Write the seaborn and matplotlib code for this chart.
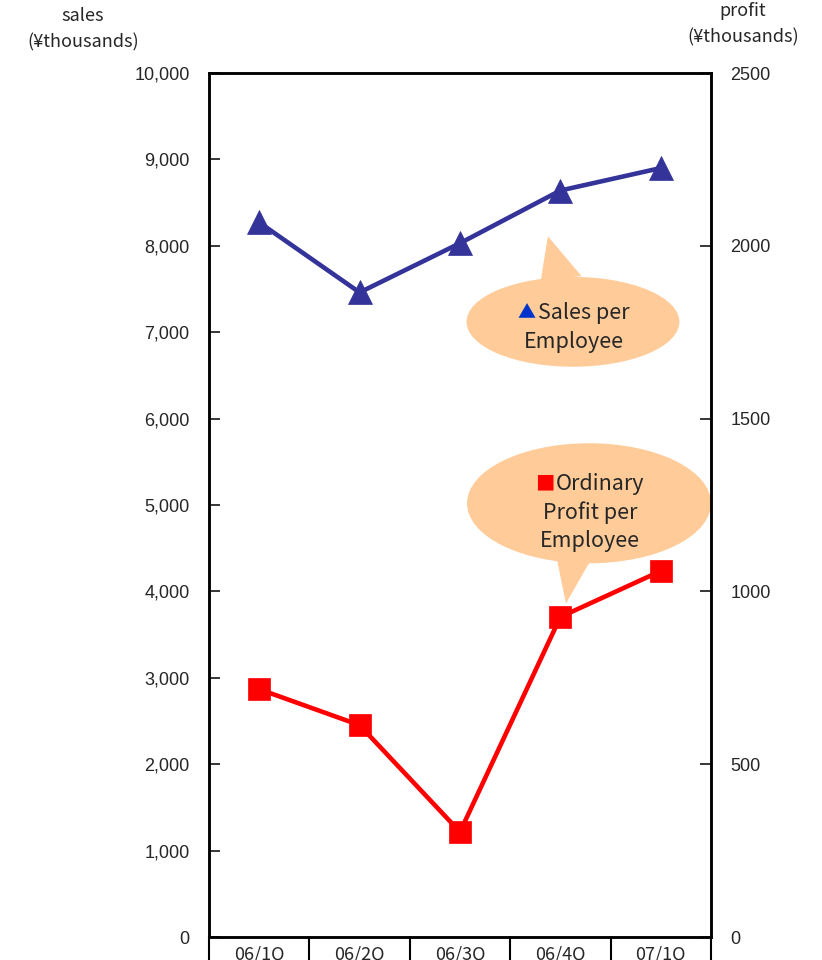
import matplotlib
matplotlib.use('Agg')
import matplotlib.pyplot as plt
import numpy as np
import seaborn as sns
from matplotlib.patches import Ellipse, Polygon

# data
quarters = ['06/1Q', '06/2Q', '06/3Q', '06/4Q', '07/1Q']
sales_per_employee = [8270, 7460, 8030, 8640, 8900]      # left axis, ¥ thousands
profit_per_employee = [717, 613, 304, 926, 1059]         # right axis, ¥ thousands
left_ticks = list(range(0, 10001, 1000))
right_ticks = list(range(0, 2501, 500))

sns.set_style('white')
plt.rcParams['font.family'] = ['Liberation Sans', 'DejaVu Sans']
JP = ['Noto Sans CJK JP', 'DejaVu Sans']

W, H = 822, 960


def px(x, y):
    # pixel position -> figure fraction
    return x / W, 1 - y / H


fig = plt.figure(figsize=(W / 100, H / 100), dpi=100)
ax = fig.add_axes([209 / W, 23 / H, 502 / W, 864 / H])
ax2 = ax.twinx()

pos = np.arange(len(quarters))
sns.lineplot(x=pos, y=sales_per_employee, ax=ax, color='#333399', marker='^',
             markersize=17, markeredgecolor='#333399', markeredgewidth=0.5,
             linewidth=3.3, zorder=4)
sns.lineplot(x=pos, y=profit_per_employee, ax=ax2, color='#ff0000', marker='s',
             markersize=15.5, markeredgecolor='#ff0000', markeredgewidth=0.5,
             linewidth=3.3, zorder=4)

ax.set_xlim(-0.5, len(quarters) - 0.5)
ax.set_ylim(0, 10000)
ax2.set_ylim(0, 2500)
ax.set_yticks(left_ticks)
ax.set_yticklabels([f'{v:,}' for v in left_ticks])
ax2.set_yticks(right_ticks)
ax2.set_yticklabels([str(v) for v in right_ticks])
ax.set_xticks(pos)
ax.set_xticklabels(quarters, fontsize=13, family=JP)
ax.tick_params(axis='x', length=0, pad=6)
ax.tick_params(axis='y', direction='in', length=8, width=1.3, labelsize=13, pad=14)
ax2.tick_params(axis='y', direction='in', length=8, width=1.3, labelsize=13, pad=14)
for a in (ax, ax2):
    a.set_xlabel('')
    a.set_ylabel('')
    for s in a.spines.values():
        s.set_linewidth(1.8)
        s.set_color('black')

# table-like separators under the axis
for b in np.arange(len(quarters) + 1) - 0.5:
    ax.plot([b, b], [0, -0.05], transform=ax.get_xaxis_transform(),
            clip_on=False, color='black', lw=1.5)

# callouts
peach = '#ffcc99'
ax.add_patch(Ellipse((0.725, 0.712), 0.424, 0.104, transform=ax.transAxes,
                     facecolor=peach, edgecolor='none', zorder=1))
ax.add_patch(Polygon([(0.661, 0.760), (0.675, 0.811), (0.742, 0.765)],
                     transform=ax.transAxes, facecolor=peach, edgecolor='none', zorder=1))
ax.add_patch(Ellipse((0.757, 0.502), 0.486, 0.139, transform=ax.transAxes,
                     facecolor=peach, edgecolor='none', zorder=1))
ax.add_patch(Polygon([(0.688, 0.452), (0.711, 0.386), (0.776, 0.452)],
                     transform=ax.transAxes, facecolor=peach, edgecolor='none', zorder=1))

fs = 15.5
fig.text(*px(526, 313), '▲', color='#0033cc', fontsize=13, family=JP, ha='center', va='center')
fig.text(*px(538, 313), 'Sales per', fontsize=fs, family=JP, ha='left', va='center')
fig.text(*px(574, 342), 'Employee', fontsize=fs, family=JP, ha='center', va='center')

fig.text(*px(545, 484), '■', color='#ff0000', fontsize=14, family=JP, ha='center', va='center')
fig.text(*px(556, 484), 'Ordinary', fontsize=fs, family=JP, ha='left', va='center')
fig.text(*px(590, 513), 'Profit per', fontsize=fs, family=JP, ha='center', va='center')
fig.text(*px(590, 541), 'Employee', fontsize=fs, family=JP, ha='center', va='center')

# axis titles
fig.text(*px(83, 16), 'sales', fontsize=13, family=JP, ha='center', va='center')
fig.text(*px(83, 42), '(¥thousands)', fontsize=13, family=JP, ha='center', va='center')
fig.text(*px(743, 11), 'profit', fontsize=13, family=JP, ha='center', va='center')
fig.text(*px(743, 37), '(¥thousands)', fontsize=13, family=JP, ha='center', va='center')

fig.savefig('out.png', dpi=100)
